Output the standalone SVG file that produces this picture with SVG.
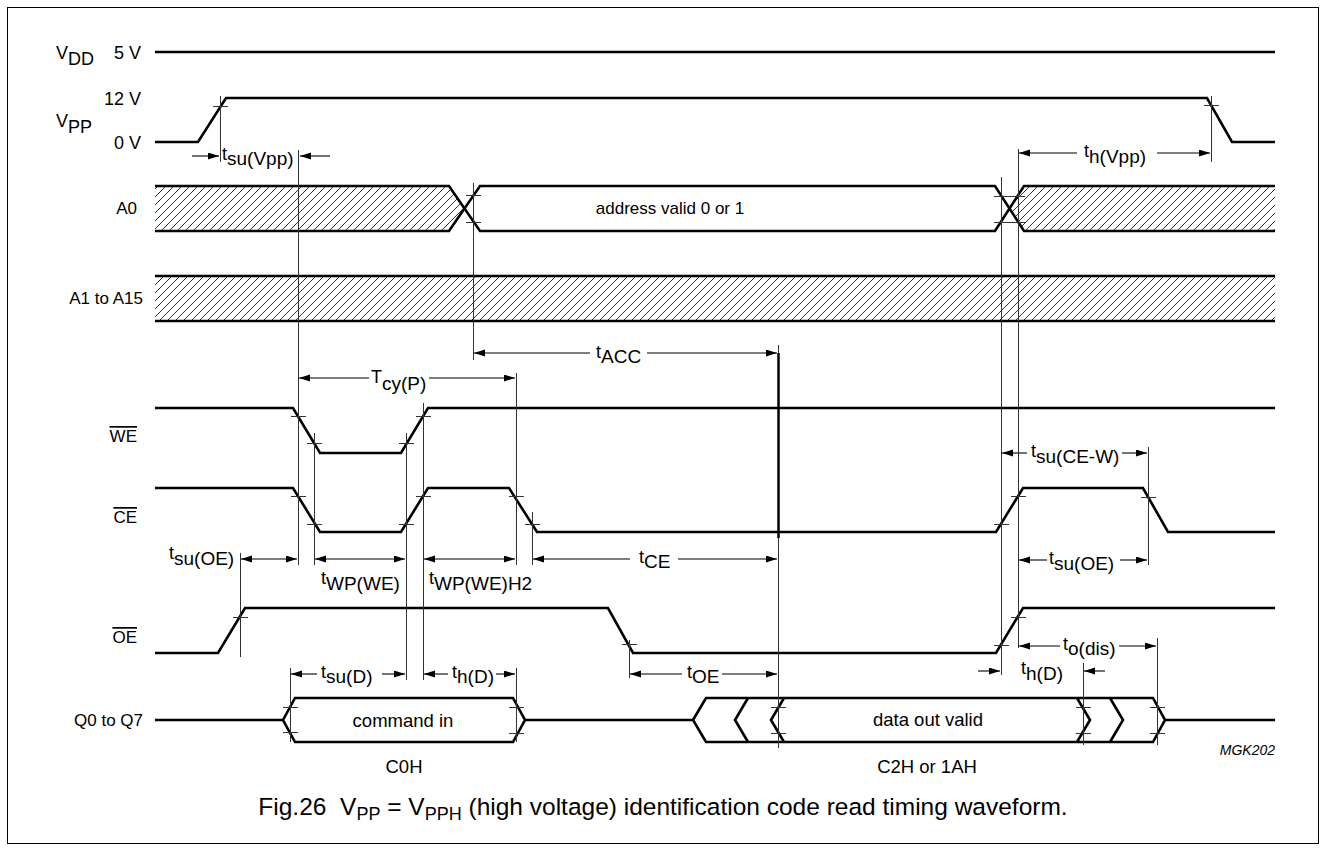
<svg xmlns="http://www.w3.org/2000/svg" width="1326" height="851" viewBox="0 0 1326 851">
<style>
text{font-family:"Liberation Sans",Arial,sans-serif;font-size:17px;fill:#000}
.big{font-size:18px}
.dat{font-size:18.5px}
.tl{font-size:18px}
.tl tspan{font-size:19px}
.cap{font-size:24.5px}
.cap tspan.s{font-size:18px}
.mgk{font-size:14px;font-style:italic}
.ov{text-decoration:overline}
.sig{fill:none;stroke:#000;stroke-width:2.6;stroke-linejoin:miter}
.thin{fill:none;stroke:#333;stroke-width:1}
.arr{fill:none;stroke:#000;stroke-width:1.1;marker-end:url(#ah)}
.darr{fill:none;stroke:#000;stroke-width:1.1;marker-end:url(#ah);marker-start:url(#ah)}
</style>
<defs>
<marker id="ah" markerUnits="userSpaceOnUse" markerWidth="12" markerHeight="8" refX="11" refY="3.5" orient="auto-start-reverse">
<path d="M0,0 L11,3.5 L0,7 z" fill="#000"/>
</marker>
<pattern id="hatch" patternUnits="userSpaceOnUse" width="8" height="8">
<path d="M-2,2 L2,-2 M0,8 L8,0 M6,10 L10,6" stroke="#000" stroke-width="0.8"/>
</pattern>
</defs>
<rect x="7.5" y="7.5" width="1311" height="836" fill="#fff" stroke="#000" stroke-width="1"/>

<g id="labels">
<text class="big" x="56" y="59">V<tspan dy="6">DD</tspan></text>
<text class="big" x="141" y="59" text-anchor="end">5 V</text>
<text class="big" x="141" y="105" text-anchor="end">12 V</text>
<text class="big" x="56" y="127">V<tspan dy="6">PP</tspan></text>
<text class="big" x="141" y="149" text-anchor="end">0 V</text>
<text x="137" y="214" text-anchor="end">A0</text>
<text x="143" y="304" text-anchor="end">A1 to A15</text>
<text x="137" y="442" text-anchor="end" class="ov">WE</text>
<text x="137" y="523" text-anchor="end" class="ov">CE</text>
<text x="137" y="643" text-anchor="end" class="ov">OE</text>
<text x="143" y="726" text-anchor="end">Q0 to Q7</text>
</g>

<g id="vdd">
<line class="sig" x1="155" y1="52" x2="1275" y2="52"/>
</g>

<g id="vpp">
<polyline class="sig" points="155,142 198,142 226,98 1207,98 1232,142 1275,142"/>
</g>

<g id="a0">
<polygon points="155,186 449,186 464.5,208.5 449,231 155,231" fill="url(#hatch)"/>
<polygon points="1275,186 1024,186 1009.5,208.5 1024,231 1275,231" fill="url(#hatch)"/>
<polyline class="sig" points="155,186 449,186 480,231 995,231 1024,186 1275,186"/>
<polyline class="sig" points="155,231 449,231 480,186 995,186 1024,231 1275,231"/>
<text x="670" y="214" text-anchor="middle">address valid 0 or 1</text>
</g>

<g id="a1a15">
<rect x="155" y="276" width="1120" height="45" fill="url(#hatch)"/>
<line class="sig" x1="155" y1="276" x2="1275" y2="276"/>
<line class="sig" x1="155" y1="321" x2="1275" y2="321"/>
</g>

<g id="we">
<polyline class="sig" points="155,408 293,408 320,453 401,453 428,408 1275,408"/>
</g>

<g id="ce">
<polyline class="sig" points="155,488 293,488 320,532 401,532 428,488 509,488 537,532 996,532 1023,488 1143,488 1168,532 1275,532"/>
</g>

<g id="oe">
<polyline class="sig" points="155,653 218,653 245,608 608,608 633,653 996,653 1023,608 1275,608"/>
</g>

<g id="q">
<line class="sig" x1="155" y1="720" x2="283" y2="720"/>
<polygon class="sig" points="283,720 295,698 513,698 525,720 513,742 295,742"/>
<line class="sig" x1="525" y1="720" x2="693" y2="720"/>
<polygon class="sig" points="693,720 706,698 1153,698 1165,720 1153,742 706,742"/>
<polyline class="sig" points="748,698 735,720 748,742"/>
<polyline class="sig" points="784,698 771,720 784,742"/>
<polyline class="sig" points="1077,698 1090,720 1077,742"/>
<polyline class="sig" points="1110,698 1123,720 1110,742"/>
<line class="sig" x1="1165" y1="720" x2="1275" y2="720"/>
<text class="dat" x="403" y="727" text-anchor="middle">command in</text>
<text class="dat" x="404" y="773" text-anchor="middle">C0H</text>
<text class="dat" x="928" y="726" text-anchor="middle">data out valid</text>
<text class="dat" x="927" y="773" text-anchor="middle">C2H or 1AH</text>
<text x="1275" y="755" text-anchor="end" class="mgk">MGK202</text>
</g>

<g id="connectors">
<g id="verticals">
<line class="thin" x1="220.5" y1="96" x2="220.5" y2="162"/>
<line class="thin" x1="298.5" y1="150" x2="298.5" y2="565"/>
<line class="thin" x1="473.5" y1="183" x2="473.5" y2="360"/>
<line class="thin" x1="1001.5" y1="177" x2="1001.5" y2="675"/>
<line class="thin" x1="1018.5" y1="149" x2="1018.5" y2="648"/>
<line class="thin" x1="1211.5" y1="96" x2="1211.5" y2="162"/>
<line class="thin" x1="314.5" y1="433" x2="314.5" y2="565"/>
<line class="thin" x1="406.5" y1="433" x2="406.5" y2="680"/>
<line class="thin" x1="423.5" y1="403" x2="423.5" y2="680"/>
<line class="thin" x1="516.5" y1="373" x2="516.5" y2="565"/>
<line class="thin" x1="532.5" y1="512" x2="532.5" y2="565"/>
<line class="thin" x1="778.5" y1="345" x2="778.5" y2="748"/>
<line x1="778.5" y1="353" x2="778.5" y2="538" stroke="#000" stroke-width="2.5"/>
<line class="thin" x1="1148.5" y1="447" x2="1148.5" y2="565"/>
<line class="thin" x1="240.5" y1="553" x2="240.5" y2="657"/>
<line class="thin" x1="629.5" y1="640" x2="629.5" y2="678"/>
<line class="thin" x1="1083.5" y1="663" x2="1083.5" y2="745"/>
<line class="thin" x1="1157.5" y1="638" x2="1157.5" y2="745"/>
<line class="thin" x1="290.5" y1="668" x2="290.5" y2="742"/>
<line class="thin" x1="516.5" y1="668" x2="516.5" y2="742"/>
</g>
<g id="ticks" stroke="#333" stroke-width="1">
<path d="M213,106.5h15 M1204,105.5h15
M466,195.5h15 M466,222.5h15
M994,196.5h31 M994,222.5h31
M291,416.5h15 M307,443.5h15 M399,443.5h15 M416,416.5h15
M291,496.5h15 M307,524.5h15 M399,524.5h15 M416,496.5h15 M509,496.5h15 M525,524.5h15
M994,524.5h15 M1011,496.5h15 M1141,497.5h15
M233,617.5h15 M622,644.5h15 M994,645.5h15 M1011,617.5h15
M283,707.5h15 M283,732.5h15 M509,707.5h15 M509,733.5h15 M771,707.5h15 M771,733.5h15
M1076,707.5h15 M1076,733.5h15 M1150,707.5h15 M1150,733.5h15"/>
</g>
<g id="arrows">
<line class="arr" x1="192" y1="156" x2="219" y2="156"/>
<line class="arr" x1="330" y1="156" x2="300" y2="156"/>
<line class="arr" x1="1077" y1="153" x2="1019" y2="153"/>
<line class="arr" x1="1157" y1="153" x2="1210" y2="153"/>
<line class="arr" x1="590" y1="353" x2="474" y2="353"/>
<line class="arr" x1="647" y1="353" x2="777" y2="353"/>
<line class="arr" x1="369" y1="378" x2="299" y2="378"/>
<line class="arr" x1="429" y1="378" x2="515" y2="378"/>
<line class="darr" x1="241" y1="559" x2="297" y2="559"/>
<line class="darr" x1="315" y1="559" x2="405" y2="559"/>
<line class="darr" x1="424" y1="559" x2="515" y2="559"/>
<line class="arr" x1="630" y1="559" x2="533" y2="559"/>
<line class="arr" x1="678" y1="559" x2="777" y2="559"/>
<line class="arr" x1="1027" y1="453" x2="1002" y2="453"/>
<line class="arr" x1="1122" y1="453" x2="1147" y2="453"/>
<line class="arr" x1="1047" y1="560" x2="1019" y2="560"/>
<line class="arr" x1="1120" y1="560" x2="1147" y2="560"/>
<line class="arr" x1="682" y1="674" x2="630" y2="674"/>
<line class="arr" x1="722" y1="674" x2="777" y2="674"/>
<line class="arr" x1="317" y1="674" x2="291" y2="674"/>
<line class="arr" x1="382" y1="674" x2="405" y2="674"/>
<line class="arr" x1="448" y1="674" x2="424" y2="674"/>
<line class="arr" x1="496" y1="674" x2="515" y2="674"/>
<line class="arr" x1="978" y1="671" x2="1000" y2="671"/>
<line class="arr" x1="1105" y1="671" x2="1084" y2="671"/>
<line class="arr" x1="1060" y1="646" x2="1019" y2="646"/>
<line class="arr" x1="1119" y1="646" x2="1156" y2="646"/>
</g>
<g id="timing-labels">
<text class="tl" x="222" y="160">t<tspan dy="5">su(Vpp)</tspan></text>
<text class="tl" x="1084" y="157">t<tspan dy="6">h(Vpp)</tspan></text>
<text class="tl" x="596" y="358">t<tspan dy="5">ACC</tspan></text>
<text class="tl" x="371" y="383">T<tspan dy="7">cy(P)</tspan></text>
<text class="tl" x="169" y="559">t<tspan dy="6">su(OE)</tspan></text>
<text class="tl" x="321" y="584">t<tspan dy="6">WP(WE)</tspan></text>
<text class="tl" x="429" y="584">t<tspan dy="6">WP(WE)H2</tspan></text>
<text class="tl" x="639" y="563">t<tspan dy="5">CE</tspan></text>
<text class="tl" x="1031" y="457">t<tspan dy="6">su(CE-W)</tspan></text>
<text class="tl" x="1049" y="564">t<tspan dy="6">su(OE)</tspan></text>
<text class="tl" x="687" y="678">t<tspan dy="5">OE</tspan></text>
<text class="tl" x="321" y="678">t<tspan dy="5">su(D)</tspan></text>
<text class="tl" x="452" y="678">t<tspan dy="5">h(D)</tspan></text>
<text class="tl" x="1021" y="674">t<tspan dy="6">h(D)</tspan></text>
<text class="tl" x="1063" y="650">t<tspan dy="5">o(dis)</tspan></text>
</g>
</g>

<text class="cap" x="663" y="815" text-anchor="middle">Fig.26&#160; V<tspan class="s" dy="5">PP</tspan><tspan dy="-5"> = V</tspan><tspan class="s" dy="5">PPH</tspan><tspan dy="-5"> (high voltage) identification code read timing waveform.</tspan></text>
</svg>
